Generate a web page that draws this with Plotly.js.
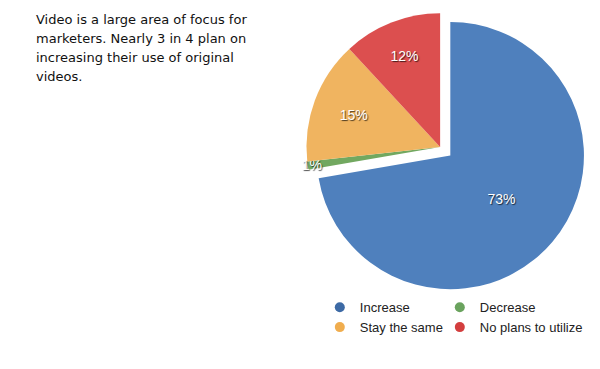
<!DOCTYPE html>
<html>
<head>
<meta charset="utf-8">
<script src="https://cdn.plot.ly/plotly-3.0.1.min.js"></script>
<style>html,body{margin:0;padding:0;background:#fff;}#chart{width:600px;height:369px;}</style>
</head>
<body>
<div id="chart"></div>
<script>
const categories = ['Increase', 'Decrease', 'Stay the same', 'No plans to utilize'];
const values = [73, 1, 15, 12];
const sliceLabels = ['73%', '1%', '15%', '12%'];
const sliceColors = ['#4f80bd', '#72a860', '#f0b460', '#dc4f4f'];
const legendColors = ['#3d6aa5', '#6aa35e', '#f0ad4e', '#d33e3e'];
const legendGroupOf = ['legend', 'legend2', 'legend', 'legend2'];
const noteLines = [
  'Video is a large area of focus for',
  'marketers. Nearly 3 in 4 plan on',
  'increasing their use of original',
  'videos.'
];

const pie = {
  type: 'pie',
  labels: categories,
  values: values,
  text: sliceLabels,
  textinfo: 'text',
  sort: false,
  direction: 'clockwise',
  rotation: 0,
  pull: [0.1, 0, 0, 0],
  marker: { colors: sliceColors, line: { width: 0 } },
  textposition: 'inside',
  insidetextorientation: 'horizontal',
  textfont: { family: 'Liberation Sans, Arial, sans-serif', size: 14, color: '#ffffff', shadow: '1px 1px 1px rgba(0,0,0,0.7)' },
  domain: { x: [0.486, 0.981], y: [0.2033, 1.0] },
  showlegend: false,
  hoverinfo: 'label+percent'
};

const legendTraces = categories.map((c, i) => ({
  type: 'scatter',
  mode: 'markers',
  x: [null], y: [null],
  name: c,
  legend: legendGroupOf[i],
  marker: { symbol: 'circle', size: 10, color: legendColors[i] },
  showlegend: true,
  hoverinfo: 'skip'
}));

const annotations = noteLines.map((t, i) => ({
  text: t,
  xref: 'paper', yref: 'paper',
  x: 34 / 600, y: 1 - (10 + i * 19) / 369,
  xanchor: 'left', yanchor: 'top',
  showarrow: false,
  align: 'left',
  font: { family: 'DejaVu Sans, sans-serif', size: 13, color: '#111111' }
}));

const legendFont = { family: 'Liberation Sans, Arial, sans-serif', size: 13, color: '#222222' };

const layout = {
  width: 600, height: 369,
  margin: { l: 0, r: 0, t: 0, b: 0 },
  paper_bgcolor: '#ffffff', plot_bgcolor: '#ffffff',
  xaxis: { visible: false }, yaxis: { visible: false },
  uniformtext: { mode: 'show', minsize: 14 },
  showlegend: true,
  legend: {
    orientation: 'v',
    x: 0.533, y: 0.208, xanchor: 'left', yanchor: 'top',
    font: legendFont, bgcolor: 'rgba(0,0,0,0)'
  },
  legend2: {
    orientation: 'v',
    x: 0.733, y: 0.208, xanchor: 'left', yanchor: 'top',
    font: legendFont, bgcolor: 'rgba(0,0,0,0)'
  },
  annotations: annotations
};

Plotly.newPlot('chart', [pie].concat(legendTraces), layout, { displayModeBar: false, staticPlot: true });
</script>
</body>
</html>
